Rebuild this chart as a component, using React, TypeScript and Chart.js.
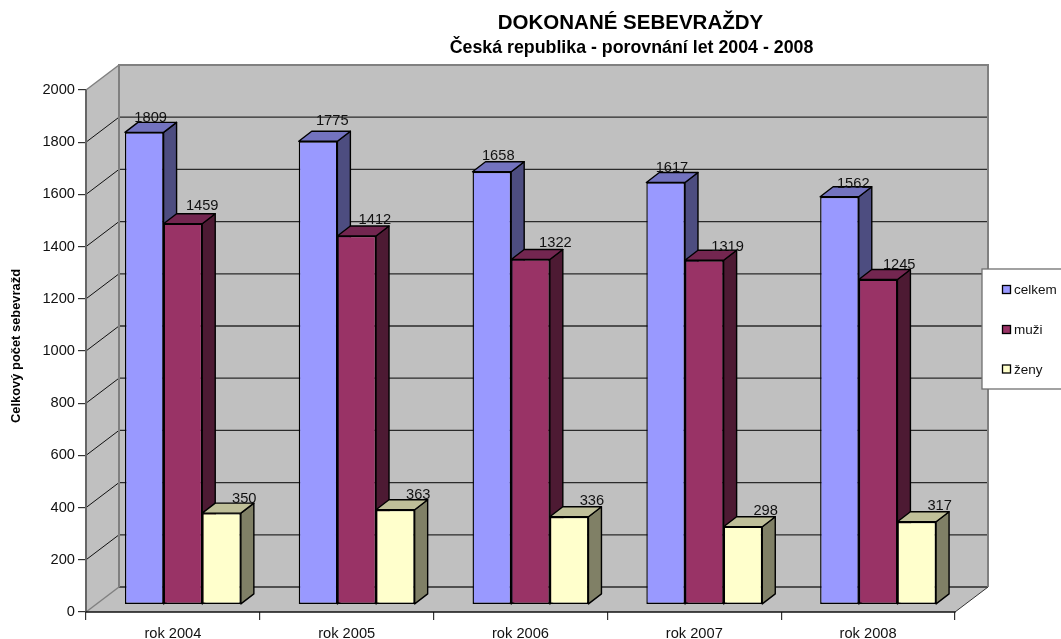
import React, { useEffect, useRef } from "react";
import { Chart, registerables } from "chart.js";

Chart.register(...registerables);

const categories = ["rok 2004", "rok 2005", "rok 2006", "rok 2007", "rok 2008"];
const celkem = [1809, 1775, 1658, 1617, 1562];
const muzi = [1459, 1412, 1322, 1319, 1245];
const zeny = [350, 363, 336, 298, 317];

const seriesNames = ["celkem", "muži", "ženy"];
const faceColors = ["#9999FF", "#993366", "#FFFFCC"];
const sideColors = ["#4D4D80", "#4D1A33", "#808066"];
const topColors = ["#7373BF", "#732650", "#BFBF99"];

// Hand-placed data label offsets of the original (from the centre of the bar's front top edge)
const labelDx = [
  [6.4, 14.2, 6.4, 6.3, 13.8],
  [19.3, 18.2, 24.9, 23.3, 21.1],
  [22.7, 22.9, 22.8, 22.7, 22.9],
];
const labelDy = [
  [-10, -15.9, -11.5, -10.5, -8.5],
  [-13.4, -11.7, -12.2, -8.9, -10.6],
  [-10.5, -10.5, -11.8, -11.4, -11.8],
];

const FONT = "'Liberation Sans', Arial, sans-serif";
const WALL = { dx: 33, dy: -25 };
const BAR_SHIFT = { dx: 10, dy: -7.5 };
const BAR_DEPTH = { dx: 13, dy: -10 };

function poly(ctx: CanvasRenderingContext2D, pts: number[][], fill: string | null, stroke: string | null, lw = 1) {
  ctx.beginPath();
  pts.forEach((p, i) => (i ? ctx.lineTo(p[0], p[1]) : ctx.moveTo(p[0], p[1])));
  ctx.closePath();
  if (fill) {
    ctx.fillStyle = fill;
    ctx.fill();
  }
  if (stroke) {
    ctx.strokeStyle = stroke;
    ctx.lineWidth = lw;
    ctx.lineJoin = "round";
    ctx.stroke();
  }
}

function line(ctx: CanvasRenderingContext2D, x1: number, y1: number, x2: number, y2: number, color: string, lw: number) {
  ctx.beginPath();
  ctx.moveTo(x1, y1);
  ctx.lineTo(x2, y2);
  ctx.strokeStyle = color;
  ctx.lineWidth = lw;
  ctx.stroke();
}

const chart3d = {
  id: "chart3d",
  afterLayout(chart: any) {
    for (const b of chart.boxes) {
      const text = b.options && b.options.text;
      if (text === "DOKONANÉ SEBEVRAŽDY") {
        b.left = 330;
        b.right = 931;
        b.top = 13.5;
      } else if (text === "Česká republika - porovnání let 2004 - 2008") {
        b.left = 330;
        b.right = 933;
        b.top = 39.5;
      }
    }
    const y = chart.scales.y;
    if (!y.$shifted) {
      y.$shifted = true;
      const orig = y.drawTitle.bind(y);
      y.drawTitle = (...args: any[]) => {
        chart.ctx.save();
        chart.ctx.translate(0, -5);
        orig(...args);
        chart.ctx.restore();
      };
    }
  },
  beforeDatasetDraw() {
    // the datasets are painted below, left bar first, so each bar covers its neighbour's side
    return false;
  },
  beforeDatasetsDraw(chart: any) {
    const { ctx } = chart;
    const { x: xs, y: ys } = chart.scales;
    const l = xs.left,
      r = xs.right,
      t = ys.top,
      b = ys.bottom;
    const { dx, dy } = WALL;
    ctx.save();
    // floor
    poly(ctx, [[l, b], [r, b], [r + dx, b + dy], [l + dx, b + dy]], "#C0C0C0", null);
    // left wall
    poly(ctx, [[l, t], [l + dx, t + dy], [l + dx, b + dy], [l, b]], "#C0C0C0", null);
    // back wall
    poly(ctx, [[l + dx, t + dy], [r + dx, t + dy], [r + dx, b + dy], [l + dx, b + dy]], "#C0C0C0", null);
    // gridlines from the value scale
    for (const tick of ys.ticks) {
      const py = ys.getPixelForValue(tick.value);
      if (tick.value !== ys.max) {
        line(ctx, l + dx, py + dy, r + dx, py + dy, "#2A2A2A", 1.3);
      }
      if (tick.value !== 0 && tick.value !== ys.max) {
        line(ctx, l, py, l + dx, py + dy, "#111111", 1);
      }
    }
    // wall edges
    line(ctx, l + dx - 1, t + dy, r + dx + 1, t + dy, "#808080", 2);
    line(ctx, l + dx, t + dy, l + dx, b + dy, "#808080", 2);
    line(ctx, r + dx, t + dy, r + dx, b + dy, "#808080", 2);
    line(ctx, l, t, l + dx, t + dy, "#808080", 1.5);
    line(ctx, l, b, l + dx, b + dy, "#808080", 1.5);
    line(ctx, r, b, r + dx, b + dy, "#333333", 1);
    line(ctx, l, t, l, b, "#666666", 2);
    line(ctx, l - 0.5, b, r + 0.5, b, "#111111", 1.5);
    ctx.restore();

    const sx = BAR_SHIFT.dx,
      sy = BAR_SHIFT.dy,
      ddx = BAR_DEPTH.dx,
      ddy = BAR_DEPTH.dy;
    chart.data.datasets.forEach((_: any, i: number) => {
      const meta = chart.getDatasetMeta(i);
      ctx.save();
      for (const el of meta.data) {
        const left = el.x - el.width / 2 + sx;
        const right = el.x + el.width / 2 + sx;
        const top = el.y + sy;
        const bottom = el.base + sy;
        poly(ctx, [[right, top], [right + ddx, top + ddy], [right + ddx, bottom + ddy], [right, bottom]], sideColors[i], "#000000", 1.4);
        poly(ctx, [[left, top], [left + ddx, top + ddy], [right + ddx, top + ddy], [right, top]], topColors[i], "#000000", 1.4);
      }
      // front faces are drawn by the library, in the plane of the bars
      ctx.translate(sx, sy);
      meta.controller.draw();
      ctx.restore();
    });
  },
  afterDatasetsDraw(chart: any) {
    const { ctx } = chart;
    ctx.save();
    // data labels
    ctx.font = `14.67px ${FONT}`;
    ctx.fillStyle = "#111111";
    ctx.textAlign = "center";
    ctx.textBaseline = "alphabetic";
    chart.data.datasets.forEach((ds: any, i: number) => {
      chart.getDatasetMeta(i).data.forEach((el: any, j: number) => {
        ctx.fillText(String(ds.data[j]), el.x + BAR_SHIFT.dx + labelDx[i][j], el.y + BAR_SHIFT.dy + labelDy[i][j]);
      });
    });
    // legend
    const boxX = 982,
      boxY = 269,
      boxH = 120;
    ctx.fillStyle = "#FFFFFF";
    ctx.fillRect(boxX, boxY, 90, boxH);
    ctx.strokeStyle = "#707070";
    ctx.lineWidth = 1.3;
    ctx.strokeRect(boxX, boxY, 90, boxH);
    ctx.font = `13.5px ${FONT}`;
    ctx.textAlign = "left";
    ctx.textBaseline = "middle";
    const rows = [290, 330, 369.5];
    chart.data.datasets.forEach((ds: any, i: number) => {
      const cy = rows[i];
      ctx.fillStyle = ds.backgroundColor;
      ctx.fillRect(1002.5, cy - 4.5, 8, 8);
      ctx.strokeStyle = "#000000";
      ctx.lineWidth = 1.3;
      ctx.strokeRect(1002.5, cy - 4.5, 8, 8);
      ctx.fillStyle = "#111111";
      ctx.fillText(ds.label, 1014, cy + 0.5);
    });
    ctx.restore();
  },
};

export default function App() {
  const ref = useRef<HTMLCanvasElement | null>(null);
  useEffect(() => {
    if (!ref.current) return;
    const values = [celkem, muzi, zeny];
    const chart = new Chart(ref.current, {
      type: "bar",
      data: {
        labels: categories,
        datasets: values.map((data, i) => ({
          label: seriesNames[i],
          data,
          backgroundColor: faceColors[i],
          borderColor: "#000000",
          borderWidth: 1.4,
          borderSkipped: false,
          categoryPercentage: 0.667,
          barPercentage: 1,
        })),
      },
      options: {
        responsive: false,
        animation: false,
        events: [],
        layout: { autoPadding: false, padding: { top: 51.7, left: 0, right: 106, bottom: 0 } },
        plugins: {
          legend: { display: false },
          tooltip: { enabled: false },
          title: {
            display: true,
            text: "DOKONANÉ SEBEVRAŽDY",
            color: "#000000",
            padding: 0,
            font: { family: FONT, size: 20.5, weight: "bold", lineHeight: 1 },
          },
          subtitle: {
            display: true,
            text: "Česká republika - porovnání let 2004 - 2008",
            color: "#000000",
            padding: 0,
            font: { family: FONT, size: 17.8, weight: "bold", lineHeight: 1 },
          },
        },
        scales: {
          x: {
            offset: true,
            border: { display: false },
            grid: { offset: true, drawOnChartArea: false, drawTicks: true, tickLength: 8, color: "#333333", lineWidth: 1.2 },
            ticks: {
              color: "#111111",
              padding: 5,
              autoSkip: false,
              maxRotation: 0,
              font: { family: FONT, size: 14.67 },
            },
            afterFit: (s: any) => {
              s.height = 27;
            },
          },
          y: {
            min: 0,
            max: 2000,
            border: { display: false },
            grid: { drawOnChartArea: false, drawTicks: true, tickLength: 8, color: "#333333", lineWidth: 1.2 },
            ticks: {
              stepSize: 200,
              color: "#111111",
              padding: 3,
              font: { family: FONT, size: 14.67 },
              callback: (v: any) => String(v),
            },
            title: {
              display: true,
              text: "Celkový počet sebevražd",
              color: "#000000",
              padding: { top: 10, bottom: 0 },
              font: { family: FONT, size: 12.9, weight: "bold", lineHeight: 1 },
            },
            afterFit: (s: any) => {
              s.width = 86;
            },
          },
        },
      },
      plugins: [chart3d],
    } as any);
    return () => chart.destroy();
  }, []);
  return (
    <div style={{ position: "absolute", left: 0, top: 0, width: 1061, height: 639, background: "#FFFFFF", overflow: "hidden" }}>
      <canvas ref={ref} width={1061} height={639} style={{ display: "block" }} />
    </div>
  );
}
